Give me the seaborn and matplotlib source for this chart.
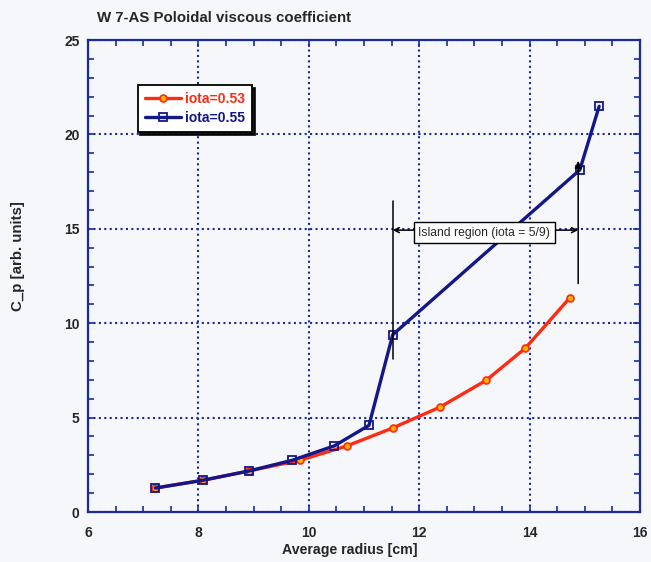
import numpy as np
import pandas as pd
import matplotlib
matplotlib.use("Agg")
import matplotlib.pyplot as plt
import seaborn as sns

# ---- data ----
radius_053 = [7.22, 8.08, 8.91, 9.84, 10.69, 11.52, 12.38, 13.21, 13.92, 14.73]
cp_053 = [1.27, 1.68, 2.17, 2.74, 3.50, 4.45, 5.56, 6.97, 8.67, 11.35]
radius_055 = [7.22, 8.08, 8.91, 9.70, 10.46, 11.09, 11.52, 14.91, 15.26]
cp_055 = [1.27, 1.68, 2.17, 2.74, 3.50, 4.59, 9.39, 18.12, 21.49]
series_labels = ["iota=0.53", "iota=0.55"]
x_ticks = [6, 8, 10, 12, 14, 16]
y_ticks = [0, 5, 10, 15, 20, 25]
title = "W 7-AS Poloidal viscous coefficient"
xlabel = "Average radius [cm]"
ylabel = "C_p [arb. units]"
island_text = "Island region (iota = 5/9)"
island_left = 11.52
island_right = 14.88

sns.set_theme(style="ticks")
plt.rcParams["font.family"] = ["Liberation Sans", "DejaVu Sans"]

bg = "#f6f7fb"
navy = "#1b2a9c"
red = "#ff2a12"
blue = "#14178a"

fig = plt.figure(figsize=(6.51, 5.62), dpi=100, facecolor=bg)
ax = fig.add_axes([88/651, 1-512/562, 552/651, 472/562])
ax.set_facecolor(bg)

df53 = pd.DataFrame({"x": radius_053, "y": cp_053})
df55 = pd.DataFrame({"x": radius_055, "y": cp_055})

sns.lineplot(data=df53, x="x", y="y", ax=ax, color=red, lw=2.4, marker="o",
             markersize=5, markerfacecolor="#ffb000", markeredgecolor=red,
             markeredgewidth=1.2, sort=False, label=series_labels[0], zorder=4)
sns.lineplot(data=df55, x="x", y="y", ax=ax, color=blue, lw=2.4, marker="s",
             markersize=6, markerfacecolor="none", markeredgecolor=blue,
             markeredgewidth=1.3, sort=False, label=series_labels[1], zorder=5)

ax.set_xlim(6, 16)
ax.set_ylim(0, 25)
ax.set_xticks(x_ticks)
ax.set_yticks(y_ticks)
ax.set_xticks(np.arange(6, 16.01, 0.5), minor=True)
ax.set_yticks(np.arange(0, 25.01, 1), minor=True)
ax.set_xticklabels([str(t) for t in x_ticks], fontsize=10, fontweight="bold")
ax.set_yticklabels([str(t) for t in y_ticks], fontsize=10, fontweight="bold")
ax.tick_params(which="both", direction="in", top=True, right=True, color=navy,
               width=1.2)
ax.tick_params(which="major", length=5)
ax.tick_params(which="minor", length=4)
ax.tick_params(axis="x", pad=10)
ax.tick_params(axis="y", pad=6)

ax.grid(True, which="major", color=navy, linestyle=(0, (1, 1.6)), lw=1.5)
ax.grid(False, which="minor")
for s in ax.spines.values():
    s.set_color(navy)
    s.set_linewidth(1.6)

ax.set_xlabel(xlabel, fontsize=10.2, fontweight="bold")
ax.set_ylabel(ylabel, fontsize=10.8, fontweight="bold")
ax.xaxis.set_label_coords((350-88)/552, (512-543)/472)
ax.yaxis.set_label_coords((25-88)/552, (512-256)/472)

fig.text(97/651, 1-18/562, title, fontsize=10.8, fontweight="bold",
         ha="left", va="center")

# island annotation
ax.plot([island_left, island_left], [8.1, 16.45], color="black", lw=1.1, zorder=6)
ax.annotate("", xy=(island_right, 18.6), xytext=(island_right, 12.1),
            arrowprops=dict(arrowstyle="-|>", color="black", lw=1.1,
                            mutation_scale=10, shrinkA=0, shrinkB=0), zorder=6)
ax.annotate("", xy=(island_left, 14.93), xytext=(11.9, 14.93),
            arrowprops=dict(arrowstyle="->", color="black", lw=1.1,
                            mutation_scale=9, shrinkA=0, shrinkB=0), zorder=6)
ax.annotate("", xy=(island_right, 14.93), xytext=(14.45, 14.93),
            arrowprops=dict(arrowstyle="->", color="black", lw=1.1,
                            mutation_scale=9, shrinkA=0, shrinkB=0), zorder=6)
ax.text(13.18, 14.8, island_text, ha="center", va="center", fontsize=8.7,
        zorder=7, bbox=dict(boxstyle="square,pad=0.4", fc="white", ec="black", lw=1))

leg = ax.legend(loc="upper left", bbox_to_anchor=(0.09, 0.905), borderaxespad=0,
                fancybox=False, framealpha=1, edgecolor="black", handlelength=2.6,
                prop={"weight": "bold", "size": 10}, borderpad=0.5,
                labelspacing=0.4, handletextpad=0.3,
                shadow={"color": "black", "alpha": 0.9})
leg.get_frame().set_linewidth(1.3)
for txt, c in zip(leg.get_texts(), [red, blue]):
    txt.set_color(c)

fig.savefig("out.png", dpi=100, facecolor=bg)
